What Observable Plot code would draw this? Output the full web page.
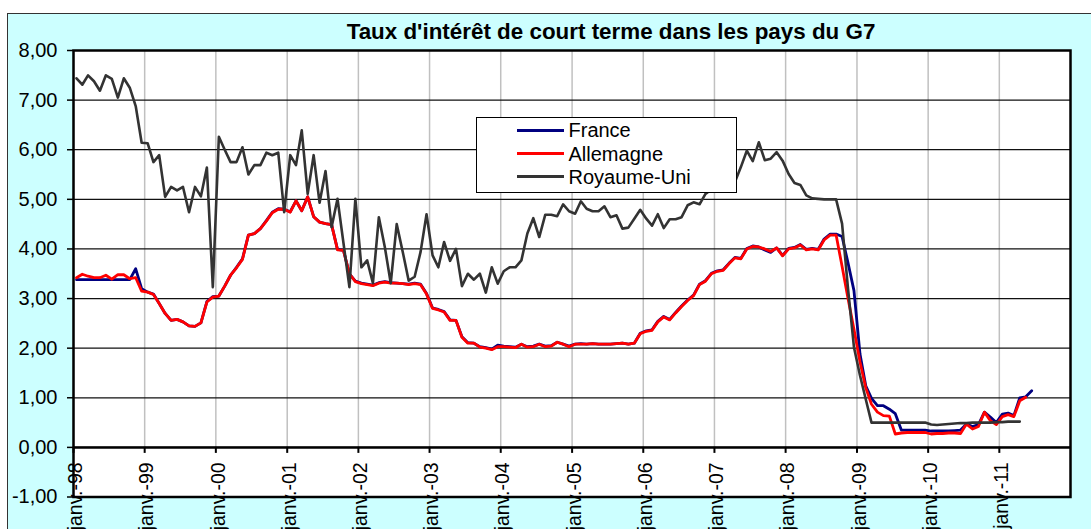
<!DOCTYPE html>
<html><head><meta charset="utf-8">
<script src="https://cdn.jsdelivr.net/npm/d3@7"></script>
<script src="https://cdn.jsdelivr.net/npm/@observablehq/plot@0.6"></script>
<style>
html,body{margin:0;padding:0;background:#fff;overflow:hidden;width:1091px;height:529px;}
#outer{position:absolute;left:6.5px;top:12.5px;width:1200px;height:600px;background:#CCFFFF;border:1.5px solid #333;box-sizing:border-box;}
#title{position:absolute;left:611px;top:20.5px;transform:translateX(-50%);font:bold 22.4px "Liberation Sans",Arial,sans-serif;line-height:22px;white-space:nowrap;color:#000;}
#chart{position:absolute;left:0;top:0;}
#legend{position:absolute;left:475.5px;top:117px;width:261px;height:76px;background:#fff;border:1.5px solid #000;box-sizing:border-box;font:20px "Liberation Sans",Arial,sans-serif;color:#000;}
.row{position:absolute;left:0;height:22px;line-height:22px;width:100%;}
.sw{position:absolute;left:40px;width:47px;height:3px;top:9.5px;}
.lab{position:absolute;left:92px;top:0;white-space:nowrap;}
</style></head><body>
<div id="outer"></div>
<div id="title">Taux d'intérêt de court terme dans les pays du G7</div>
<div id="chart"></div>
<div id="legend"></div>
<script>
// Monthly series, starting January 1998
const startYear = 1998;
const seriesNames = ["France", "Allemagne", "Royaume-Uni"];
const seriesColors = ["#000080", "#FF0000", "#333333"];

const france = [
  3.38,3.38,3.38,3.38,3.38,3.38,3.38,3.38,3.38,3.38,3.60,3.20,
  3.13,3.09,2.90,2.70,2.56,2.58,2.53,2.45,2.44,2.51,2.94,3.04,
  3.05,3.25,3.47,3.63,3.80,4.28,4.31,4.41,4.57,4.74,4.81,4.80,
  4.75,4.97,4.77,5.05,4.65,4.54,4.51,4.49,3.99,3.97,3.50,3.35,
  3.31,3.29,3.27,3.32,3.34,3.32,3.31,3.30,3.29,3.31,3.29,3.10,
  2.81,2.78,2.74,2.57,2.56,2.23,2.11,2.10,2.03,2.01,1.98,2.06,
  2.04,2.03,2.02,2.08,2.03,2.04,2.08,2.04,2.05,2.12,2.08,2.04,
  2.08,2.09,2.08,2.09,2.08,2.08,2.08,2.09,2.10,2.08,2.10,2.30,
  2.35,2.37,2.54,2.64,2.58,2.72,2.85,2.97,3.07,3.29,3.36,3.51,
  3.56,3.58,3.71,3.83,3.81,4.01,4.06,4.04,3.98,3.93,4.02,3.87,
  4.01,4.03,4.09,3.99,4.01,3.99,4.20,4.30,4.30,4.25,3.72,3.16,
  1.88,1.24,0.99,0.84,0.84,0.77,0.68,0.35,0.35,0.35,0.35,0.35,
  0.33,0.33,0.33,0.33,0.34,0.35,0.47,0.42,0.46,0.71,0.61,0.50,
  0.67,0.69,0.64,1.00,1.02,1.14
];
const allemagne = [
  3.42,3.49,3.45,3.42,3.42,3.47,3.39,3.48,3.48,3.40,3.42,3.15,
  3.13,3.08,2.90,2.70,2.56,2.58,2.53,2.45,2.44,2.51,2.93,3.03,
  3.05,3.25,3.47,3.62,3.79,4.28,4.31,4.41,4.56,4.73,4.80,4.80,
  4.74,4.97,4.77,5.05,4.65,4.54,4.51,4.49,3.98,3.97,3.50,3.34,
  3.30,3.28,3.26,3.31,3.33,3.31,3.31,3.30,3.28,3.30,3.28,3.09,
  2.80,2.77,2.73,2.56,2.56,2.22,2.10,2.10,2.02,2.00,1.97,2.03,
  2.03,2.02,2.01,2.08,2.02,2.03,2.08,2.03,2.04,2.12,2.08,2.03,
  2.08,2.08,2.08,2.09,2.08,2.08,2.08,2.09,2.10,2.08,2.10,2.29,
  2.34,2.36,2.53,2.63,2.57,2.71,2.84,2.96,3.06,3.28,3.35,3.50,
  3.55,3.57,3.70,3.82,3.80,4.00,4.05,4.04,4.00,3.95,4.02,3.86,
  4.00,4.02,4.08,3.98,4.00,3.98,4.18,4.28,4.28,3.65,3.00,2.38,
  1.72,1.20,0.87,0.71,0.64,0.63,0.27,0.29,0.30,0.30,0.30,0.30,
  0.27,0.28,0.28,0.29,0.29,0.28,0.47,0.37,0.42,0.71,0.54,0.46,
  0.62,0.66,0.62,0.94,1.01
];
const royaumeUni = [
  7.44,7.31,7.50,7.38,7.19,7.50,7.43,7.05,7.44,7.25,6.88,6.14,
  6.13,5.75,5.89,5.05,5.25,5.18,5.25,4.74,5.25,5.06,5.64,3.23,
  6.26,6.00,5.75,5.75,6.05,5.50,5.69,5.69,5.94,5.89,5.94,4.74,
  5.89,5.69,6.39,5.11,5.89,4.93,5.57,4.44,5.01,4.12,3.23,5.01,
  3.63,3.77,3.31,4.64,4.04,3.31,4.50,3.94,3.36,3.44,3.94,4.70,
  3.87,3.63,4.14,3.76,4.00,3.25,3.50,3.38,3.50,3.12,3.63,3.30,
  3.55,3.63,3.63,3.77,4.31,4.62,4.24,4.69,4.69,4.66,4.90,4.76,
  4.71,4.96,4.81,4.76,4.76,4.86,4.64,4.68,4.41,4.43,4.61,4.79,
  4.61,4.47,4.70,4.42,4.60,4.60,4.64,4.88,4.94,4.90,5.11,5.20,
  5.30,5.35,5.35,5.35,5.65,5.98,5.77,6.15,5.79,5.82,5.95,5.78,
  5.51,5.33,5.29,5.08,5.02,5.01,5.00,5.00,5.00,4.51,3.20,2.02,
  1.45,0.97,0.50,0.50,0.50,0.50,0.50,0.50,0.50,0.50,0.50,0.50,
  0.46,0.45,0.46,0.47,0.48,0.49,0.49,0.50,0.50,0.50,0.50,0.51,
  0.51,0.52,0.52,0.52
];
const yTicks = [-1, 0, 1, 2, 3, 4, 5, 6, 7, 8];
const xTickYears = [1998,1999,2000,2001,2002,2003,2004,2005,2006,2007,2008,2009,2010,2011];
const xTickPrefix = "janv.-";

// helpers
const monthMid = i => {
  const a = Date.UTC(startYear, i, 1), b = Date.UTC(startYear, i + 1, 1);
  return new Date((a + b) / 2);
};
const toRows = arr => arr.map((v, i) => ({date: monthMid(i), value: v}));
const janDates = xTickYears.map(y => new Date(Date.UTC(y, 0, 1)));
const fmtY = d => d.toFixed(2).replace(".", ",");
const fmtX = d => xTickPrefix + String(d.getUTCFullYear()).slice(2);

const H = 540;
const chart = Plot.plot({
  width: 1091, height: H,
  marginLeft: 73, marginRight: 21, marginTop: 50, marginBottom: H - 496.5,
  style: {background: "transparent", fontFamily: "Liberation Sans, Arial, sans-serif", fontSize: "20px", color: "#000", overflow: "visible"},
  x: {type: "utc", domain: [new Date(Date.UTC(1998, 0, 1)), new Date(Date.UTC(2012, 0, 1))], axis: null},
  y: {domain: [-1, 8]},
  marks: [
    Plot.frame({fill: "white", stroke: null}),
    Plot.ruleX(janDates, {x: d => d, y1: 0, y2: 8, stroke: "#c0c0c0", strokeWidth: 1.5}),
    Plot.ruleY(yTicks, {y: d => d, stroke: "#111", strokeWidth: 1.2}),
    Plot.line(toRows(france), {x: "date", y: "value", stroke: seriesColors[0], strokeWidth: 2.8, strokeLinejoin: "round"}),
    Plot.line(toRows(allemagne), {x: "date", y: "value", stroke: seriesColors[1], strokeWidth: 2.8, strokeLinejoin: "round"}),
    Plot.line(toRows(royaumeUni), {x: "date", y: "value", stroke: seriesColors[2], strokeWidth: 2.6, strokeLinejoin: "round"}),
    Plot.ruleY([0], {stroke: "#000", strokeWidth: 2.5}),
    Plot.frame({stroke: "#000", strokeWidth: 2.5}),
    Plot.axisY({ticks: yTicks, tickFormat: fmtY, tickSize: 6, tickPadding: 10, label: null, strokeWidth: 1.5, fontSize: 20}),
    Plot.ruleX(janDates, {x: d => d, y1: 0, y2: 0, insetBottom: -6, stroke: "#000", strokeWidth: 2}),
    Plot.text(janDates, {x: d => d, y: 0, text: fmtX, rotate: -90, textAnchor: "end", lineAnchor: "middle", dy: 15, dx: 2.5, fontSize: 19.5, fill: "#000"})
  ]
});
document.getElementById("chart").appendChild(chart);

// legend
const leg = document.getElementById("legend");
const rowTops = [1.2, 24.7, 47.9];
seriesNames.forEach((name, i) => {
  const row = document.createElement("div");
  row.className = "row";
  row.style.top = rowTops[i] + "px";
  const sw = document.createElement("div");
  sw.className = "sw";
  sw.style.background = seriesColors[i];
  const lab = document.createElement("div");
  lab.className = "lab";
  lab.textContent = name;
  row.appendChild(sw); row.appendChild(lab);
  leg.appendChild(row);
});
</script></body></html>
